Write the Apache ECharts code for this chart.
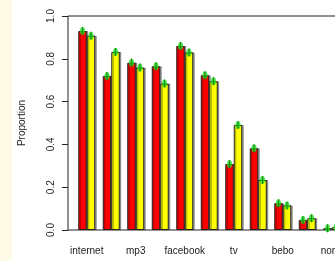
<!DOCTYPE html>
<html>
<head>
<meta charset="utf-8">
<script src="https://cdn.jsdelivr.net/npm/echarts@6/dist/echarts.min.js"></script>
<style>
  html, body { margin: 0; padding: 0; background: #fff; }
  #chart { width: 335px; height: 261px; }
</style>
</head>
<body>
<div id="chart"></div>
<script>
// categories (only every other one gets a label, like the R plot)
var categories = ["internet", "mobile", "mp3", "games", "facebook", "myspace", "tv", "radio", "bebo", "msn", "none"];
// proportions
var redValues = [0.930, 0.720, 0.782, 0.765, 0.860, 0.723, 0.308, 0.382, 0.125, 0.047, 0.008];
var yellowValues = [0.908, 0.832, 0.759, 0.684, 0.830, 0.695, 0.491, 0.234, 0.115, 0.055, 0.013];
var yTicks = [0, 0.2, 0.4, 0.6, 0.8, 1.0];

(function () {
  var myChart = echarts.init(document.getElementById("chart"));
  var font = "Liberation Sans, Arial, sans-serif";

  // green error-bar blobs on top of each bar
  function blob(name, values, dx) {
    return [
      {
        name: name + " err",
        type: "scatter",
        xAxisIndex: 1,
        yAxisIndex: 1,
        symbol: "circle",
        symbolSize: [5, 8],
        symbolOffset: [dx, 0],
        itemStyle: { color: "#1fe01f" },
        silent: true,
        z: 5,
        data: values
      },
      {
        name: name + " errline",
        type: "scatter",
        xAxisIndex: 1,
        yAxisIndex: 1,
        symbol: "rect",
        symbolSize: [1.2, 8],
        symbolOffset: [dx, 0],
        itemStyle: { color: "#127a12" },
        silent: true,
        z: 6,
        data: values
      }
    ];
  }

  var barStyle = function (c) {
    return {
      color: c,
      borderColor: "#222",
      borderWidth: 1,
      shadowColor: "rgba(0,0,0,0.35)",
      shadowBlur: 0,
      shadowOffsetX: 1.5,
      shadowOffsetY: 0
    };
  };

  var option = {
    animation: false,
    textStyle: { fontFamily: font },
    graphic: [
      {
        type: "rect",
        left: 0,
        top: 0,
        shape: { width: 12, height: 261 },
        style: { fill: "#fdfbe6" },
        silent: true
      }
    ],
    grid: [
      // frame + y axis
      { left: 68, top: 16, right: -30, bottom: 31, outerBoundsMode: "none", show: true, borderColor: "#222", borderWidth: 1 },
      // bars
      { left: 74.5, top: 16, right: -9, bottom: 31, outerBoundsMode: "none" }
    ],
    xAxis: [
      { gridIndex: 0, type: "value", show: false, min: 0, max: 1 },
      {
        gridIndex: 1,
        type: "category",
        data: categories,
        axisLine: { show: false },
        axisTick: { show: false },
        axisLabel: { interval: 1, margin: 16, fontSize: 10, color: "#222", fontFamily: font }
      }
    ],
    yAxis: [
      {
        gridIndex: 0,
        type: "value",
        min: 0,
        max: 1,
        interval: 0.2,
        name: "Proportion",
        nameLocation: "middle",
        nameGap: 41,
        nameTextStyle: { fontSize: 10, color: "#222", fontFamily: font },
        axisLine: { show: false },
        axisTick: { show: true, length: 6, lineStyle: { color: "#222" } },
        splitLine: { show: false },
        axisLabel: {
          rotate: 90,
          margin: 12,
          fontSize: 10,
          color: "#222",
          fontFamily: font,
          formatter: function (v) {
            return yTicks.indexOf(v) >= 0 ? v.toFixed(1) : "";
          }
        }
      },
      { gridIndex: 1, type: "value", min: 0, max: 1, show: false }
    ],
    series: [
      {
        name: "red",
        type: "bar",
        xAxisIndex: 1,
        yAxisIndex: 1,
        barWidth: 8.5,
        barGap: "0%",
        itemStyle: barStyle("#ff0000"),
        data: redValues
      },
      {
        name: "yellow",
        type: "bar",
        xAxisIndex: 1,
        yAxisIndex: 1,
        barWidth: 8.5,
        barGap: "0%",
        itemStyle: barStyle("#ffff00"),
        data: yellowValues
      }
    ]
      .concat(blob("red", redValues, -4.25))
      .concat(blob("yellow", yellowValues, 4.25))
  };

  myChart.setOption(option);
  window.addEventListener("resize", function () {
    myChart.resize();
  });
})();
</script>
</body>
</html>
